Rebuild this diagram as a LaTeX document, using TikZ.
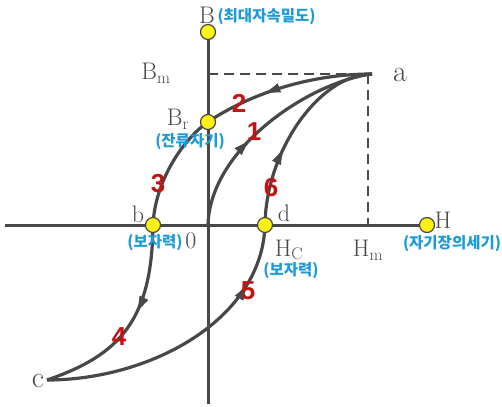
\documentclass[tikz,border=0pt]{standalone}
\usepackage{fontspec}
\usetikzlibrary{arrows.meta, decorations.markings}
\newfontfamily\krfont{Noto Sans CJK KR}
\newfontfamily\numfont{Liberation Sans}
\definecolor{curvegray}{RGB}{72,72,72}
\definecolor{labelblue}{RGB}{30,155,215}
\definecolor{numred}{RGB}{195,20,20}
\definecolor{dotyellow}{RGB}{255,240,20}
\tikzset{
    dot/.style={circle, fill=dotyellow, draw=curvegray, line width=1.2pt, minimum size=15pt, inner sep=0pt},
    axisline/.style={draw=curvegray, line width=3pt},
    guide/.style={draw=curvegray, line width=2.6pt, dash pattern=on 10pt off 6pt},
    loopcurve/.style={draw=curvegray, line width=3.2pt},
    midarrow/.style={postaction={decorate}, decoration={markings, mark=at position #1 with {\arrow[line width=1pt]{Latex[length=17pt, width=10pt]}}}},
    numlabel/.style={text=numred, font=\numfont\bfseries\fontsize{26}{26}\selectfont},
    krlabel/.style={text=labelblue, font=\krfont\bfseries\fontsize{15.5}{16}\selectfont},
    letterlabel/.style={text=curvegray, font=\fontsize{24}{24}\selectfont},
    biglabel/.style={text=curvegray, font=\fontsize{30}{30}\selectfont}
}

\begin{document}
\begin{tikzpicture}[x=1pt, y=-1pt]
    \useasboundingbox (0,0) rectangle (502,406);

    % ---------- key points ----------
    \coordinate (o)  at (208,225);
    \coordinate (bt) at (208,32);
    \coordinate (br) at (208,122);
    \coordinate (bm) at (208,74);
    \coordinate (a)  at (372,74);
    \coordinate (hm) at (368,225);
    \coordinate (b)  at (153,225);
    \coordinate (c)  at (47,380);
    \coordinate (d)  at (265,225);
    \coordinate (ht) at (427,225);
    \coordinate (xl) at (5,225);
    \coordinate (yb) at (208,404);

    % ---------- axes ----------
    \draw[axisline] (xl) -- (ht);
    \draw[axisline] (yb) -- (bt);

    % ---------- B_m / H_m guides ----------
    \draw[guide] (bm) -- (a -| hm) -- (hm);

    % ---------- hysteresis loop ----------
    \draw[loopcurve, midarrow=0.64] (a) .. controls (300,74) and (240,100) .. (br);
    \draw[loopcurve] (br) .. controls (184,138.5) and (155,180) .. (b);
    \draw[loopcurve, midarrow=0.44] (b) .. controls (152,320) and (120,355) .. (c);
    \draw[loopcurve, midarrow=0.79] (c) .. controls (150,380) and (262,320) .. (d);
    \draw[loopcurve, midarrow=0.4] (d) .. controls (266,150) and (320,74) .. (a);
    \draw[loopcurve, midarrow=0.41] (o) .. controls (210,148) and (310,82) .. (a); % initial curve

    % ---------- marked points ----------
    \node[dot] (Bdot)  at (bt) {};
    \node[dot] (Brdot) at (br) {};
    \node[dot] (bdot)  at (b) {};
    \node[dot] (ddot)  at (d) {};
    \node[dot] (Hdot)  at (ht) {};

    % ---------- letters ----------
    \node[letterlabel] (Blab)  at (207,15)  {B};
    \node[letterlabel] (Bmlab) at (156,73)  {$\mathrm{B_m}$};
    \node[biglabel]    (alab)  at (400,75)  {a};
    \node[letterlabel] (Brlab) at (178,119) {$\mathrm{B_r}$};
    \node[letterlabel] (blab)  at (138,214) {b};
    \node[letterlabel] (olab)  at (191,241) {0};
    \node[letterlabel] (dlab)  at (284,213) {d};
    \node[letterlabel] (Hclab) at (289,250) {$\mathrm{H_C}$};
    \node[letterlabel] (Hmlab) at (368,250) {$\mathrm{H_m}$};
    \node[letterlabel] (Hlab)  at (443,220) {H};
    \node[biglabel]    (clab)  at (38,381)  {c};

    % ---------- korean notes ----------
    \node[krlabel, anchor=west] (Bkr) at (214,17) {(최대자속밀도)};
    \node[krlabel] (Brkr) at (190,142) {(잔류자기)};
    \node[krlabel] (bkr)  at (155,243) {(보자력)};
    \node[krlabel] (dkr)  at (291,271) {(보자력)};
    \node[krlabel] (Hkr)  at (452,244) {(자기장의세기)};

    % ---------- path numbers ----------
    \node[numlabel] (n1) at (254,132) {1};
    \node[numlabel] (n2) at (239,103) {2};
    \node[numlabel] (n3) at (158,184) {3};
    \node[numlabel] (n4) at (119,337) {4};
    \node[numlabel] (n5) at (248,291) {5};
    \node[numlabel] (n6) at (271,188) {6};
\end{tikzpicture}
\end{document}
